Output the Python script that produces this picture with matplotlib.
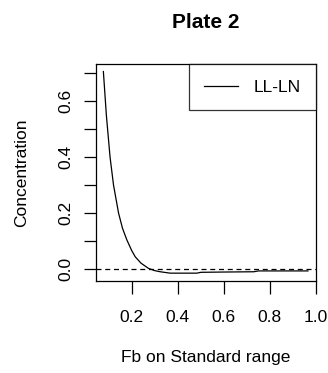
import matplotlib
matplotlib.use("Agg")
import matplotlib.pyplot as plt

plt.rcParams['font.family'] = ['Liberation Sans', 'DejaVu Sans']

# Values
fb = [0.077, 0.09, 0.106, 0.121, 0.143, 0.16, 0.179, 0.2, 0.215, 0.24,
      0.273, 0.3, 0.324, 0.367, 0.42, 0.483, 0.5, 0.6, 0.73, 0.75, 0.85, 0.965]
conc = [0.707, 0.55, 0.40, 0.30, 0.199, 0.145, 0.103, 0.065, 0.043, 0.02,
        0.001, -0.007, -0.011, -0.016, -0.016, -0.016, -0.013, -0.012, -0.011,
        -0.008, -0.008, -0.008]
xticks = [0.2, 0.4, 0.6, 0.8, 1.0]
yticks = [0.0, 0.1, 0.2, 0.3, 0.4, 0.5, 0.6, 0.7]
ylabels = ["0.0", "", "0.2", "", "0.4", "", "0.6", ""]

fig = plt.figure(figsize=(3.28, 3.73), dpi=100)
ax = fig.add_axes([0.2927, 0.2475, 0.6707, 0.5809])

ax.plot(fb, conc, color="black", lw=0.9, label="LL-LN")
ax.axhline(0, color="black", lw=0.9, ls=(0, (4, 3)))

ax.set_xlim(0.045, 1.0)
ax.set_ylim(-0.043, 0.734)
for s in ax.spines.values():
    s.set_linewidth(0.9)

ax.set_xticks(xticks)
ax.set_xticklabels(["0.2", "0.4", "0.6", "0.8", "1.0"])
ax.set_yticks(yticks)
ax.set_yticklabels(ylabels, rotation=90, va="center")
ax.tick_params(direction="out", length=9, width=0.9, labelsize=12.5)
ax.tick_params(axis="x", pad=12)
ax.tick_params(axis="y", pad=7)

ax.set_title("Plate 2", fontsize=15, fontweight="bold", pad=26)
ax.set_xlabel("Fb on Standard range", fontsize=12.5, labelpad=18)
ax.set_ylabel("Concentration", fontsize=12.5, labelpad=21)

leg = ax.legend(loc="upper right", borderaxespad=0, fancybox=False,
                edgecolor="black", fontsize=12.5, handlelength=1.95,
                borderpad=0.9, handletextpad=0.87)
leg.get_frame().set_linewidth(0.9)

fig.savefig("out.png", dpi=100)
